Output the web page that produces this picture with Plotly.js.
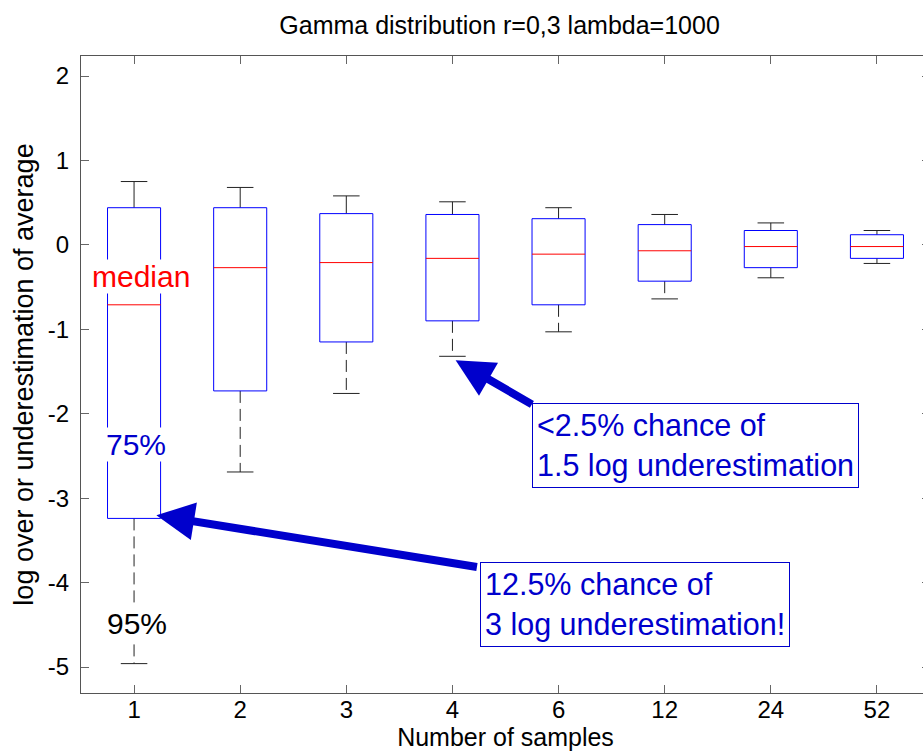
<!DOCTYPE html>
<html>
<head>
<meta charset="utf-8">
<script src="https://cdn.plot.ly/plotly-3.0.1.min.js"></script>
<style>
  html, body { margin: 0; padding: 0; overflow: hidden; background: #fff; }
  #chart { width: 940px; height: 751px; }
</style>
</head>
<body>
<div id="chart"></div>
<script>
// Number of samples per estimate (category labels along the x axis)
const categories = ['1', '2', '3', '4', '6', '12', '24', '52'];

// Box-plot statistics of the log over/underestimation of the average
const upperWhisker = [0.75, 0.68, 0.58, 0.51, 0.44, 0.36, 0.26, 0.17];
const q3           = [0.44, 0.44, 0.37, 0.36, 0.31, 0.24, 0.17, 0.12];
const medians      = [-0.71, -0.27, -0.21, -0.16, -0.11, -0.07, -0.02, -0.02];
const q1           = [-3.24, -1.73, -1.15, -0.90, -0.71, -0.43, -0.27, -0.16];
const lowerWhisker = [-4.96, -2.69, -1.76, -1.32, -1.03, -0.64, -0.39, -0.22];

// y tick values and their labels (plain hyphen-minus)
const yTicks = [-5, -4, -3, -2, -1, 0, 1, 2];
const yTickLabels = ['-5', '-4', '-3', '-2', '-1', '0', '1', '2'];

const FONT = 'Liberation Sans, Arial, Helvetica, sans-serif';
const BOX_HALF = 0.25;
const CAP_HALF = 0.125;

const pos = categories.map((_, i) => i + 1);

// Build segment lists (null separates segments) from the statistics
function segs(fn) {
  const xs = [], ys = [];
  pos.forEach((p, i) => {
    fn(p, i).forEach(([xa, ya]) => { xs.push(xa); ys.push(ya); });
    xs.push(null); ys.push(null);
  });
  return { x: xs, y: ys };
}

const lowerWhiskers = segs((p, i) => [[p, q1[i]], [p, lowerWhisker[i]]]);
const upperWhiskers = segs((p, i) => [[p, q3[i]], [p, upperWhisker[i]]]);
const caps = (() => {
  const a = segs((p, i) => [[p - CAP_HALF, upperWhisker[i]], [p + CAP_HALF, upperWhisker[i]]]);
  const b = segs((p, i) => [[p - CAP_HALF, lowerWhisker[i]], [p + CAP_HALF, lowerWhisker[i]]]);
  return { x: a.x.concat(b.x), y: a.y.concat(b.y) };
})();
const boxes = segs((p, i) => [
  [p - BOX_HALF, q3[i]], [p + BOX_HALF, q3[i]], [p + BOX_HALF, q1[i]],
  [p - BOX_HALF, q1[i]], [p - BOX_HALF, q3[i]]
]);
const medianLines = segs((p, i) => [[p - BOX_HALF, medians[i]], [p + BOX_HALF, medians[i]]]);

const common = { type: 'scatter', mode: 'lines', hoverinfo: 'skip', showlegend: false };

const traces = [
  Object.assign({}, common, lowerWhiskers, { line: { color: '#222', width: 1, dash: '12px,6px' } }),
  Object.assign({}, common, upperWhiskers, { line: { color: '#222', width: 1 } }),
  Object.assign({}, common, caps, { line: { color: '#222', width: 1 } }),
  Object.assign({}, common, boxes, { line: { color: '#0000ff', width: 1 } }),
  Object.assign({}, common, medianLines, { line: { color: '#ff0000', width: 1 } })
];

const BLUE = '#0000cc';

const annotations = [
  { x: 1.07, y: -0.38, xref: 'x', yref: 'y', text: 'median', showarrow: false,
    font: { family: FONT, size: 30, color: '#ff0000' }, bgcolor: '#ffffff', borderpad: 0 },
  { x: 1.02, y: -2.36, xref: 'x', yref: 'y', text: '75%', showarrow: false,
    font: { family: FONT, size: 30, color: BLUE }, bgcolor: '#ffffff', borderpad: 0 },
  { x: 1.03, y: -4.48, xref: 'x', yref: 'y', text: '95%', showarrow: false,
    font: { family: FONT, size: 30, color: '#000000' }, bgcolor: '#ffffff', borderpad: 0 },
  { x: 4.75, y: -1.873, xref: 'x', yref: 'y', xanchor: 'left', yanchor: 'top', align: 'left',
    text: '&lt;2.5% chance of<br>1.5 log underestimation', showarrow: false,
    font: { family: FONT, size: 30.5, color: BLUE }, bgcolor: '#ffffff',
    bordercolor: BLUE, borderwidth: 1, borderpad: 4 },
  { x: 4.257, y: -3.756, xref: 'x', yref: 'y', xanchor: 'left', yanchor: 'top', align: 'left',
    text: '12.5% chance of<br>3 log underestimation!', showarrow: false,
    font: { family: FONT, size: 30.5, color: BLUE }, bgcolor: '#ffffff',
    bordercolor: BLUE, borderwidth: 1, borderpad: 4 },
  // arrows pointing at the lower quartile / lower whisker
  { x: 4.03, y: -1.367, ax: 4.763, ay: -1.90, xref: 'x', yref: 'y', axref: 'x', ayref: 'y',
    text: '', showarrow: true, arrowcolor: BLUE, arrowwidth: 8, arrowhead: 2, arrowsize: 0.95, standoff: 0 },
  { x: 1.21, y: -3.203, ax: 4.245, ay: -3.819, xref: 'x', yref: 'y', axref: 'x', ayref: 'y',
    text: '', showarrow: true, arrowcolor: BLUE, arrowwidth: 8, arrowhead: 2, arrowsize: 0.95, standoff: 0 }
];

const axisCommon = {
  showline: true, linecolor: '#555', linewidth: 1, mirror: 'ticks',
  ticks: 'inside', ticklen: 8, tickcolor: '#666', tickwidth: 1,
  showgrid: false, zeroline: false,
  tickfont: { family: FONT, size: 24, color: '#000' }
};

const layout = {
  width: 940, height: 751,
  margin: { l: 81, r: 10, t: 56, b: 58 },
  paper_bgcolor: '#fff', plot_bgcolor: '#fff',
  font: { family: FONT, color: '#000' },
  title: {
    text: 'Gamma distribution r=0,3 lambda=1000',
    font: { family: FONT, size: 25, color: '#000' },
    xref: 'paper', x: 0.493, xanchor: 'center',
    yref: 'container', y: 0.967, yanchor: 'middle'
  },
  xaxis: Object.assign({}, axisCommon, {
    range: [0.5, 8.5], tickmode: 'array', tickvals: pos, ticktext: categories,
    ticklabelstandoff: -5,
    title: { text: 'Number of samples', font: { family: FONT, size: 25, color: '#000' }, standoff: 22 }
  }),
  yaxis: Object.assign({}, axisCommon, {
    range: [-5.308, 2.237], tickmode: 'array', tickvals: yTicks, ticktext: yTickLabels,
    ticklabelstandoff: 6,
    title: { text: 'log over or underestimation of average', font: { family: FONT, size: 27, color: '#000' }, standoff: 6 }
  }),
  annotations: annotations
};

Plotly.newPlot('chart', traces, layout, { staticPlot: true, displayModeBar: false });
</script>
</body>
</html>
